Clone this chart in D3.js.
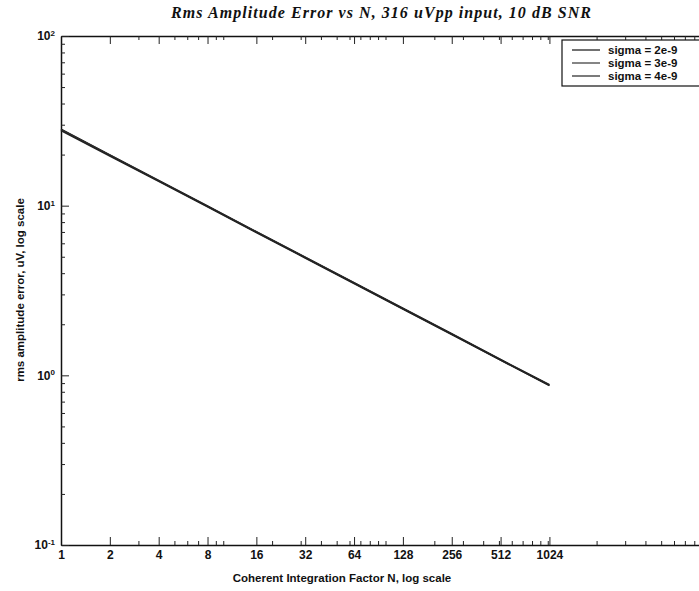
<!DOCTYPE html>
<meta charset="utf-8">
<style>
  html, body { margin: 0; background: #fff; overflow: hidden; }
  svg { display: block; }
  text { font-family: "Liberation Sans", Arial, sans-serif; font-weight: bold; fill: #111; }
  .title { font-family: "Liberation Serif", "Times New Roman", serif; font-style: italic; font-size: 16px; }
  .line { fill: none; stroke-width: 1.6; }
</style>
<svg width="699" height="591"></svg>
<script src="https://d3js.org/d3.v7.min.js"></script>
<script>
  // integration factor N (x) and rms error in uV for each sigma
  var N = [1, 2, 4, 8, 16, 32, 64, 128, 256, 512, 1024];
  var sigma2 = [28.2, 19.9, 14.1, 9.95, 7.02, 4.97, 3.51, 2.49, 1.76, 1.24, 0.88];
  var sigma3 = [28.0, 19.8, 14.0, 9.9, 7.0, 4.95, 3.5, 2.47, 1.75, 1.23, 0.875];
  var sigma4 = [27.7, 19.6, 13.9, 9.85, 6.95, 4.92, 3.48, 2.46, 1.74, 1.23, 0.87];
  var seriesNames = ["sigma = 2e-9", "sigma = 3e-9", "sigma = 4e-9"];
  var xTickLabels = [1, 2, 4, 8, 16, 32, 64, 128, 256, 512, 1024];
  var yDecades = [0.1, 1, 10, 100];

  var svg = d3.select("svg"),
    margin = {top: 36, right: -11, bottom: 46, left: 61},
    width = +svg.attr("width") - margin.left - margin.right,
    height = +svg.attr("height") - margin.top - margin.bottom;

  var x = d3.scaleLog().domain([1, 10000]).range([0, width]),
    y = d3.scaleLog().domain([0.1, 100]).range([height, 0]);

  var g = svg.append("g")
    .attr("transform", "translate(" + margin.left + "," + margin.top + ")");

  // minor ticks 2..9 x 10^k
  var xMinor = x.ticks().filter(function(d) { return xTickLabels.indexOf(d) < 0; });
  var yMinor = y.ticks().filter(function(d) { return yDecades.indexOf(d) < 0; });

  // bottom axis with labels, ticks pointing inward
  g.append("g")
    .attr("class", "axis axis--x")
    .attr("transform", "translate(0," + height + ")")
    .call(d3.axisBottom(x).tickValues(xTickLabels).tickSizeInner(-8).tickSizeOuter(0)
      .tickPadding(5).tickFormat(d3.format("d")))
    .selectAll("text")
    .style("font-size", "12px");
  g.append("g")
    .attr("class", "minor")
    .attr("transform", "translate(0," + height + ")")
    .call(d3.axisBottom(x).tickValues(xMinor).tickSize(-4).tickFormat(""));

  // top axis, ticks only
  g.append("g")
    .call(d3.axisTop(x).tickValues(xTickLabels).tickSizeInner(-8).tickSizeOuter(0).tickFormat(""));
  g.append("g")
    .attr("class", "minor")
    .call(d3.axisTop(x).tickValues(xMinor).tickSize(-4).tickFormat(""));

  // left axis
  var yAx = g.append("g")
    .attr("class", "axis axis--y")
    .call(d3.axisLeft(y).tickValues(yDecades).tickSizeInner(-8).tickSizeOuter(0)
      .tickFormat(""));
  g.append("g")
    .attr("class", "minor")
    .call(d3.axisLeft(y).tickValues(yMinor).tickSize(-4).tickFormat(""));

  g.selectAll(".minor .domain").remove();

  // 10^k labels
  yAx.selectAll(".tick").append("text")
    .attr("x", -6).attr("dy", "0.32em")
    .attr("text-anchor", "end")
    .style("font-size", "12px")
    .each(function(d) {
      var t = d3.select(this);
      t.append("tspan").text("10");
      t.append("tspan").attr("dy", "-0.55em").style("font-size", "8px")
        .text(Math.round(Math.log10(d)));
    });

  g.selectAll(".domain").attr("stroke", "#111").attr("stroke-width", 1.5);
  g.selectAll(".tick line").attr("stroke", "#222");

  // series lines
  var line = d3.line()
    .x(function(d) { return x(d[0]); })
    .y(function(d) { return y(d[1]); });

  var series = [sigma2, sigma3, sigma4];
  var colors = ["#111", "#333", "#222"];
  series.forEach(function(vals, i) {
    g.append("path")
      .attr("class", "line")
      .attr("stroke", colors[i])
      .attr("d", line(N.map(function(n, j) { return [n, vals[j]]; })));
  });

  // legend
  var lg = svg.append("g").attr("transform", "translate(562,40)");
  lg.append("rect")
    .attr("width", 140).attr("height", 46)
    .attr("fill", "#fff").attr("stroke", "#111").attr("stroke-width", 1.2);
  seriesNames.forEach(function(name, i) {
    var yy = 10 + i * 13;
    lg.append("line")
      .attr("x1", 10).attr("x2", 38).attr("y1", yy).attr("y2", yy)
      .attr("stroke", colors[i]).attr("stroke-width", 1.2);
    lg.append("text")
      .attr("x", 46).attr("y", yy).attr("dy", "0.35em")
      .style("font-size", "11.5px")
      .text(name);
  });

  // title and axis labels
  svg.append("text")
    .attr("class", "title")
    .attr("x", 381).attr("y", 18)
    .attr("text-anchor", "middle")
    .attr("textLength", 420)
    .text("Rms Amplitude Error vs N, 316 uVpp input, 10 dB SNR");

  svg.append("text")
    .attr("x", 342).attr("y", 582)
    .attr("text-anchor", "middle")
    .style("font-size", "11.5px")
    .text("Coherent Integration Factor N, log scale");

  svg.append("text")
    .attr("transform", "translate(24,290) rotate(-90)")
    .attr("text-anchor", "middle")
    .style("font-size", "11.5px")
    .text("rms amplitude error, uV, log scale");
</script>
